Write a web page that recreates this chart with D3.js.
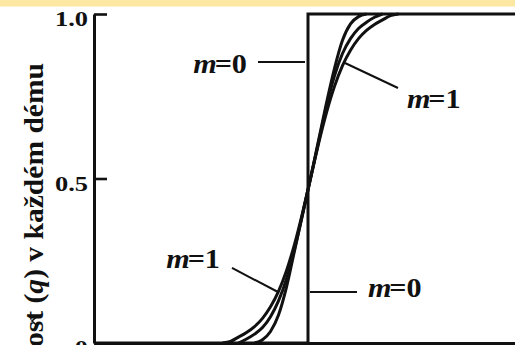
<!DOCTYPE html>
<html>
<head>
<meta charset="utf-8">
<script src="https://cdn.jsdelivr.net/npm/d3@7"></script>
<style>
  html, body { margin: 0; padding: 0; background: #ffffff; }
  svg { display: block; }
  .lbl { font-family: "Liberation Serif", "Times New Roman", serif; font-weight: bold; fill: #111; }
</style>
</head>
<body>
<svg id="chart" width="515" height="345"></svg>
<script>
// Allele frequency across a hybrid zone: a sharp step (m=0) and smoother clines.
const yTicks = [0, 0.5, 1.0];
const yTickLabels = ["0", "0.5", "1.0"];

// step profile, m = 0
const stepX = [-214, 0, 0, 214];
const stepQ = [0, 0, 1, 1];

// steepest smooth cline
const clineAX = [-53.5, -45.5, -37.5, -29.5, -21.5, -13.5, -5.5, 2.5, 10.5, 18.5, 26.5, 34.5, 42.5, 50.5, 58.5];
const clineAQ = [0, 0.01, 0.035, 0.085, 0.17, 0.28, 0.39, 0.5, 0.615, 0.73, 0.835, 0.92, 0.97, 0.992, 1];

// intermediate cline
const clineBX = [-69.5, -61.5, -53.5, -45.5, -37.5, -29.5, -21.5, -13.5, -5.5, 2.5, 10.5, 18.5, 26.5, 34.5, 42.5, 50.5, 58.5, 66.5, 74.5];
const clineBQ = [0, 0.012, 0.027, 0.047, 0.08, 0.128, 0.195, 0.285, 0.39, 0.5, 0.61, 0.72, 0.812, 0.88, 0.925, 0.956, 0.975, 0.99, 1];

// widest cline, m = 1
const clineCX = [-85.5, -77.5, -69.5, -61.5, -53.5, -45.5, -37.5, -29.5, -21.5, -13.5, -5.5, 2.5, 10.5, 18.5, 26.5, 34.5, 42.5, 50.5, 58.5, 66.5, 74.5, 82.5, 90.5];
const clineCQ = [0, 0.005, 0.018, 0.032, 0.05, 0.075, 0.11, 0.157, 0.22, 0.3, 0.395, 0.5, 0.605, 0.7, 0.78, 0.843, 0.89, 0.925, 0.95, 0.968, 0.982, 0.995, 1];

// curve labels with their leader lines (data coordinates)
const labelText = ["=0", "=1", "=1", "=0"];
const labelX = [-61, 99, -88, 60];
const labelQ = [0.821, 0.714, 0.228, 0.14];
const labelAnchor = ["end", "start", "end", "start"];
const leaderX1 = [-50, 37, -76, 2];
const leaderQ1 = [0.854, 0.851, 0.228, 0.155];
const leaderX2 = [-3, 90, -30, 49];
const leaderQ2 = [0.854, 0.775, 0.155, 0.155];

const svg = d3.select("#chart");
const W = 515, H = 345;

svg.append("rect").attr("width", W).attr("height", H).attr("fill", "#ffffff");
svg.append("rect").attr("width", W).attr("height", 6.5).attr("fill", "#fde8a3");

const x = d3.scaleLinear().domain([-214, 214]).range([94, 522]);
const y = d3.scaleLinear().domain([0, 1]).range([343, 14]);

const line = d3.line().x(d => x(d[0])).y(d => y(d[1]));
const smooth = d3.line().x(d => x(d[0])).y(d => y(d[1])).curve(d3.curveMonotoneX);

// x baseline
const xAxis = svg.append("g").attr("transform", `translate(0,${y(0)})`)
  .call(d3.axisBottom(x).tickValues([]).tickSizeOuter(0));
xAxis.select(".domain").attr("stroke", "#111").attr("stroke-width", 3.2);

// y axis with inward ticks
const yAxis = svg.append("g").attr("transform", `translate(${x(-214)},0)`)
  .call(d3.axisRight(y).tickValues(yTicks).tickSize(13).tickSizeOuter(0).tickFormat(""));
yAxis.select(".domain").attr("stroke", "#111").attr("stroke-width", 3);
yAxis.selectAll(".tick line").attr("stroke", "#111").attr("stroke-width", 2.6);

// tick labels
yTicks.forEach((v, i) => {
  svg.append("text").attr("class", "lbl")
    .attr("transform", `translate(${x(-214) - 6},${y(v) + 12}) scale(1.2,1)`)
    .attr("text-anchor", "end")
    .style("font-size", "22px")
    .text(yTickLabels[i]);
});

// rotated axis title (runs off the bottom edge)
const title = svg.append("text").attr("class", "lbl")
  .attr("transform", `translate(43,63) rotate(-90)`)
  .attr("text-anchor", "end")
  .attr("textLength", 284).attr("lengthAdjust", "spacingAndGlyphs")
  .style("font-size", "28px");
title.append("tspan").text("ost (");
title.append("tspan").style("font-style", "italic").text("q");
title.append("tspan").text(") v každém dému");

// circumflex mark of the estimate symbol
svg.append("path")
  .attr("d", "M37.5,316 L32,321 L37.5,326")
  .attr("fill", "none").attr("stroke", "#111").attr("stroke-width", 1.6)
  .attr("stroke-linejoin", "miter");

// step (m = 0)
svg.append("path")
  .attr("d", line(stepX.map((v, i) => [v, stepQ[i]])))
  .attr("fill", "none").attr("stroke", "#111").attr("stroke-width", 3)
  .attr("stroke-linejoin", "miter");

// smooth clines
[[clineAX, clineAQ], [clineBX, clineBQ], [clineCX, clineCQ]].forEach(([xs, qs]) => {
  svg.append("path")
    .attr("d", smooth(xs.map((v, i) => [v, qs[i]])))
    .attr("fill", "none").attr("stroke", "#111").attr("stroke-width", 3);
});

// leaders and labels
labelText.forEach((t, i) => {
  svg.append("line")
    .attr("x1", x(leaderX1[i])).attr("y1", y(leaderQ1[i]))
    .attr("x2", x(leaderX2[i])).attr("y2", y(leaderQ2[i]))
    .attr("stroke", "#111").attr("stroke-width", 2);
  const tx = svg.append("text").attr("class", "lbl")
    .attr("transform", `translate(${x(labelX[i])},${y(labelQ[i])}) scale(1.12,1)`)
    .attr("text-anchor", labelAnchor[i])
    .style("font-size", "27px");
  tx.append("tspan").style("font-style", "italic").text("m");
  tx.append("tspan").attr("dx", -2).text(t);
});
</script>
</body>
</html>
